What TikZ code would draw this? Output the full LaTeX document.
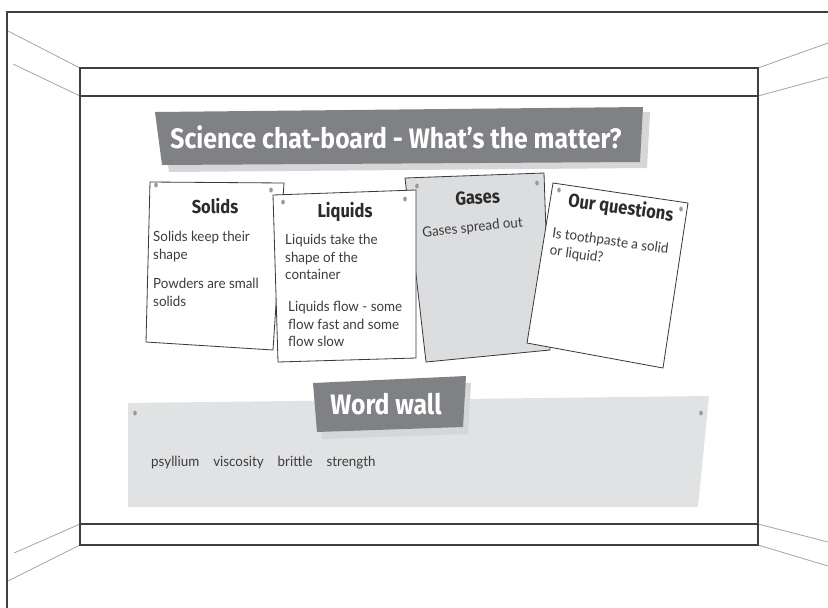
\documentclass[tikz,border=0pt]{standalone}
\usepackage{fontspec}
\setmainfont{Lato}
\newfontfamily\headfont[FakeStretch=0.88]{Fira Sans}
\newfontfamily\handfont[FakeStretch=0.95]{Lato}
\usetikzlibrary{positioning}
\definecolor{wallline}{HTML}{3F3F3F}
\definecolor{cardline}{HTML}{3A3A3A}
\definecolor{bannergray}{HTML}{808184}
\definecolor{shadowgray}{HTML}{D5D6D7}
\definecolor{panelgray}{HTML}{E1E2E3}
\definecolor{gasgray}{HTML}{DCDDDF}
\definecolor{pingray}{HTML}{9A9A9A}
\definecolor{textdark}{HTML}{2B2B2B}
\definecolor{textgray}{HTML}{3C3C3C}

\begin{document}
\begin{tikzpicture}[x=0.03cm, y=-0.03cm,
  wall/.style={draw=wallline, line width=1.1pt},
  edge/.style={draw=gray!70, line width=0.7pt},
  card/.style={draw=cardline, line width=0.7pt, fill=white},
  pin/.style={fill=pingray},
  banner/.style={fill=bannergray},
  bannershadow/.style={fill=shadowgray},
  title/.style={font=\headfont\bfseries\fontsize{24}{28}\selectfont,
                text=white, inner sep=0pt},
  cardhead/.style={font=\headfont\bfseries\fontsize{16}{18}\selectfont,
                   text=textdark, inner sep=0pt},
  cardtext/.style={font=\handfont\fontsize{12}{15}\selectfont,
                   text=textgray, align=left, inner sep=0pt}
]
\useasboundingbox (0,0) rectangle (828,608);

\draw[wallline, line width=0.9pt] (828,12) -- (7,12) -- (7,608);
\draw[edge] (8,31) -- (80,68);
\draw[edge] (13,64) -- (80,96);
\draw[edge] (828,43) -- (758,68);
\draw[edge] (828,77) -- (758,96);
\draw[edge] (14,553) -- (80,524);
\draw[edge] (8,581) -- (80,545);
\draw[edge] (828,542) -- (758,524);
\draw[edge] (828,566) -- (758,545);
\draw[wall] (80,68) rectangle (758,545);
\draw[wall] (80,96) -- (758,96);
\draw[wall] (80,524) -- (758,524);

\fill[bannershadow] (162,118) -- (650,112) -- (647,168) -- (169,172) -- cycle;
\fill[banner] (155,112) -- (643,107) -- (640,162) -- (162,165) -- cycle;
\node[title] (boardtitle) at (396,137) {Science chat-board - What’s the matter?};

\draw[card, fill=gasgray] (405,178) -- (544,173) -- (550,350) -- (426,362) -- cycle;
\fill[pin] (417,186) ellipse (1.8 and 2.5);
\fill[pin] (537,183) ellipse (1.8 and 2.5);
\node[cardhead, anchor=base, rotate=4] (gaseshead) at (478,204) {Gases};
\node[cardtext, anchor=base, rotate=6] (gasestext) at (473,232) {Gases spread out};

\draw[card] (150,182) -- (284,183) -- (273,350) -- (146,342) -- cycle;
\fill[pin] (156,185) ellipse (1.8 and 2.5);
\fill[pin] (271,190) ellipse (1.8 and 2.5);
\node[cardhead, anchor=base] (solidshead) at (215,213) {Solids};
\node[cardtext, anchor=north west] (solidsone) at (153,231) {Solids keep their\\shape};
\node[cardtext, anchor=north west] (solidstwo) at (153,278) {Powders are small\\solids};

\draw[card] (273,195) -- (416,190) -- (416,358) -- (278,362) -- cycle;
\fill[pin] (283,202) ellipse (1.8 and 2.5);
\fill[pin] (405,199) ellipse (1.8 and 2.5);
\node[cardhead, anchor=base] (liquidshead) at (345,217) {Liquids};
\node[cardtext, anchor=north west] (liquidsone) at (285,234) {Liquids take the\\shape of the\\container};
\node[cardtext, anchor=north west] (liquidstwo) at (288,301) {Liquids flow - some\\flow fast and some\\flow slow};

\draw[card] (553,183) -- (688,203) -- (663,368) -- (527,343) -- cycle;
\fill[pin] (559,190) ellipse (1.8 and 2.5);
\fill[pin] (681,209) ellipse (1.8 and 2.5);
\node[cardhead, anchor=base, rotate=-8] (questionshead) at (620,214) {Our questions};
\node[cardtext, anchor=north west, rotate=-8] (questionstext) at (553,227) {Is toothpaste a solid\\or liquid?};

\fill[panelgray] (128,403) -- (709,396) -- (698,507) -- (128,507) -- cycle;
\fill[pin] (135,413) ellipse (1.8 and 2.5);
\fill[pin] (701,413) ellipse (1.8 and 2.5);
\fill[bannershadow] (318,390) -- (471,383) -- (468,434) -- (322,439) -- cycle;
\fill[banner] (313,383) -- (466,376) -- (463,427) -- (317,432) -- cycle;
\node[title] (wallbanner) at (386,404) {Word wall};
\node[cardtext, anchor=base west] (wallwords) at (151,466)
  {psyllium\hspace{1em}viscosity\hspace{1em}brittle\hspace{1em}strength};
\end{tikzpicture}
\end{document}
